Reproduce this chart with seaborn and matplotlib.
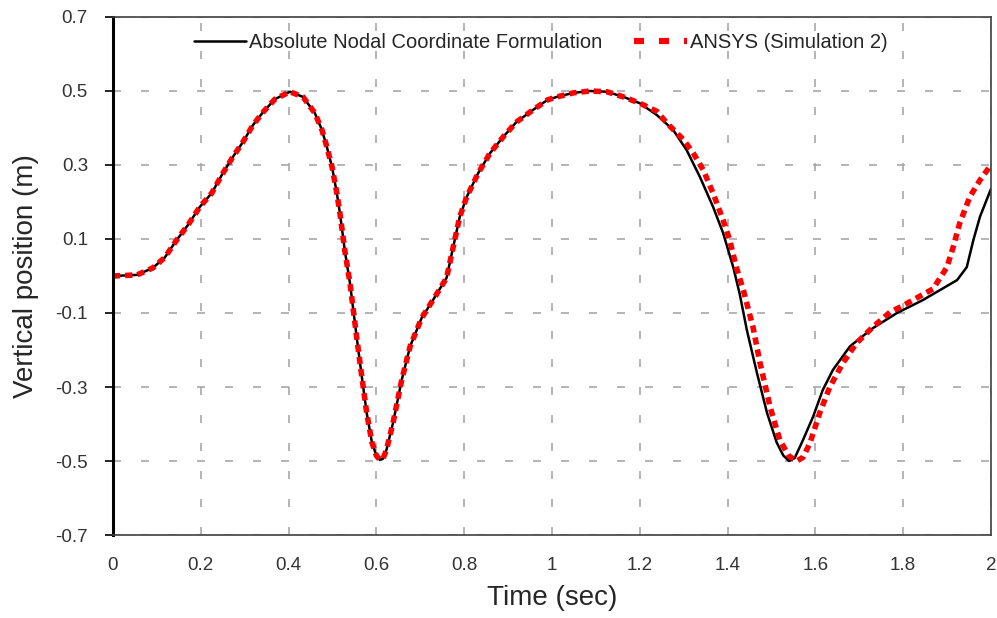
import matplotlib
matplotlib.use("Agg")
import pandas as pd
import matplotlib.pyplot as plt
from matplotlib.lines import Line2D
import seaborn as sns

# --- Data ---
t_ancf = [0.0, 0.055, 0.091, 0.118, 0.145, 0.171, 0.198, 0.225, 0.248, 0.271,
          0.296, 0.319, 0.342, 0.369, 0.403, 0.433, 0.46, 0.476, 0.487, 0.499,
          0.51, 0.517, 0.528, 0.54, 0.556, 0.567, 0.578, 0.59, 0.6, 0.608, 0.615,
          0.623, 0.638, 0.658, 0.677, 0.703, 0.729, 0.76, 0.775, 0.79, 0.806,
          0.832, 0.859, 0.889, 0.919, 0.957, 0.99, 1.011, 1.049, 1.087, 1.125,
          1.163, 1.2, 1.239, 1.276, 1.307, 1.337, 1.367, 1.39, 1.413, 1.428,
          1.444, 1.467, 1.49, 1.512, 1.527, 1.54, 1.553, 1.572, 1.595, 1.617,
          1.64, 1.679, 1.731, 1.786, 1.845, 1.923, 1.945, 1.96, 1.975, 2.0]
y_ancf = [0.0, 0.003, 0.022, 0.05, 0.097, 0.138, 0.187, 0.224, 0.273, 0.318,
          0.362, 0.408, 0.443, 0.478, 0.498, 0.484, 0.44, 0.395, 0.35, 0.295,
          0.224, 0.17, 0.07, -0.02, -0.173, -0.273, -0.37, -0.45, -0.485, -0.497, -0.494,
          -0.47, -0.397, -0.28, -0.19, -0.114, -0.065, -0.005, 0.078, 0.16, 0.214,
          0.278, 0.332, 0.376, 0.416, 0.449, 0.476, 0.484, 0.495, 0.5, 0.498,
          0.484, 0.467, 0.435, 0.395, 0.34, 0.268, 0.187, 0.116, 0.024, -0.05,
          -0.146, -0.262, -0.37, -0.45, -0.485, -0.5, -0.492, -0.443, -0.38, -0.308,
          -0.254, -0.19, -0.141, -0.1, -0.065, -0.011, 0.024, 0.097, 0.16, 0.235]

t_ansys = [0.0, 0.055, 0.091, 0.118, 0.145, 0.171, 0.198, 0.225, 0.248, 0.271,
           0.296, 0.319, 0.342, 0.369, 0.403, 0.433, 0.46, 0.476, 0.487, 0.499,
           0.51, 0.517, 0.528, 0.54, 0.556, 0.567, 0.578, 0.59, 0.6, 0.608, 0.615,
           0.623, 0.638, 0.658, 0.677, 0.703, 0.729, 0.76, 0.775, 0.79, 0.806,
           0.832, 0.859, 0.889, 0.919, 0.957, 0.99, 1.011, 1.049, 1.087, 1.125,
           1.163, 1.2, 1.239, 1.262, 1.3, 1.322, 1.345, 1.367, 1.39, 1.405,
           1.42, 1.436, 1.458, 1.474, 1.497, 1.519, 1.54, 1.558, 1.572, 1.588,
           1.61, 1.633, 1.663, 1.694, 1.731, 1.77, 1.8, 1.83, 1.868, 1.9,
           1.914, 1.929, 1.952, 1.975, 2.0]
y_ansys = [0.0, 0.003, 0.022, 0.05, 0.097, 0.138, 0.187, 0.224, 0.273, 0.318,
           0.362, 0.408, 0.443, 0.478, 0.498, 0.484, 0.44, 0.395, 0.35, 0.295,
           0.224, 0.17, 0.07, -0.02, -0.173, -0.273, -0.37, -0.45, -0.485, -0.497, -0.494,
           -0.47, -0.397, -0.28, -0.19, -0.114, -0.065, -0.005, 0.078, 0.16, 0.214,
           0.278, 0.332, 0.376, 0.416, 0.449, 0.476, 0.484, 0.495, 0.5, 0.498,
           0.484, 0.467, 0.445, 0.413, 0.368, 0.332, 0.286, 0.224, 0.151, 0.097,
           0.024, -0.038, -0.138, -0.235, -0.354, -0.443, -0.487, -0.5, -0.49, -0.451,
           -0.37, -0.30, -0.235, -0.181, -0.138, -0.098, -0.08, -0.06, -0.035, 0.024,
           0.078, 0.143, 0.214, 0.259, 0.3]

x_ticks = [0, 0.2, 0.4, 0.6, 0.8, 1.0, 1.2, 1.4, 1.6, 1.8, 2.0]
x_tick_labels = ["0", "0.2", "0.4", "0.6", "0.8", "1", "1.2", "1.4", "1.6", "1.8", "2"]
y_ticks = [-0.7, -0.5, -0.3, -0.1, 0.1, 0.3, 0.5, 0.7]
y_tick_labels = ["-0.7", "-0.5", "-0.3", "-0.1", "0.1", "0.3", "0.5", "0.7"]

df_ancf = pd.DataFrame({"t": t_ancf, "y": y_ancf})
df_ansys = pd.DataFrame({"t": t_ansys, "y": y_ansys})

# --- Style ---
sns.set_style("white")
plt.rcParams["font.family"] = ["Liberation Sans", "DejaVu Sans"]

fig = plt.figure(figsize=(9.97, 6.18), dpi=100)
ax = fig.add_axes([0.1133, 0.1343, 0.8806, 0.8382])

sns.lineplot(data=df_ancf, x="t", y="y", ax=ax, color="black", linewidth=1.8,
             sort=False, estimator=None, legend=False)
sns.lineplot(data=df_ansys, x="t", y="y", ax=ax, color="#ff0000", linewidth=4.0,
             sort=False, estimator=None, linestyle=(0, (1.3, 0.9)), legend=False)

ax.set_xlim(0, 2)
ax.set_ylim(-0.7, 0.7)
ax.set_xticks(x_ticks)
ax.set_xticklabels(x_tick_labels)
ax.set_yticks(y_ticks)
ax.set_yticklabels(y_tick_labels)

ax.grid(True, color="#a8a8a8", linewidth=1.2, linestyle=(0, (4.8, 12)))
ax.set_axisbelow(True)

ax.tick_params(axis="x", length=0, pad=16, labelsize=13.5, labelcolor="#333333")
ax.tick_params(axis="y", length=6, width=1.2, color="black", direction="out",
               pad=12, labelsize=13.5, labelcolor="#333333", left=True)

for side in ["top", "right", "bottom"]:
    ax.spines[side].set_color("#404040")
    ax.spines[side].set_linewidth(1.2)
ax.spines["left"].set_color("black")
ax.spines["left"].set_linewidth(2.2)

ax.set_xlabel("Time (sec)", fontsize=20, labelpad=8)
ax.set_ylabel("Vertical position (m)", fontsize=20, labelpad=12)

handles = [
    Line2D([], [], color="black", linewidth=1.8),
    Line2D([], [], color="#ff0000", linewidth=4.5, linestyle=(0, (1.6, 2.4))),
]
ax.legend(handles, ["Absolute Nodal Coordinate Formulation", "ANSYS (Simulation 2)"],
          loc="center", bbox_to_anchor=(0.487, 0.95), ncol=2, frameon=False,
          fontsize=14.5, handlelength=2.6, handletextpad=0.15, columnspacing=1.6)

fig.savefig("out.png", dpi=100)
